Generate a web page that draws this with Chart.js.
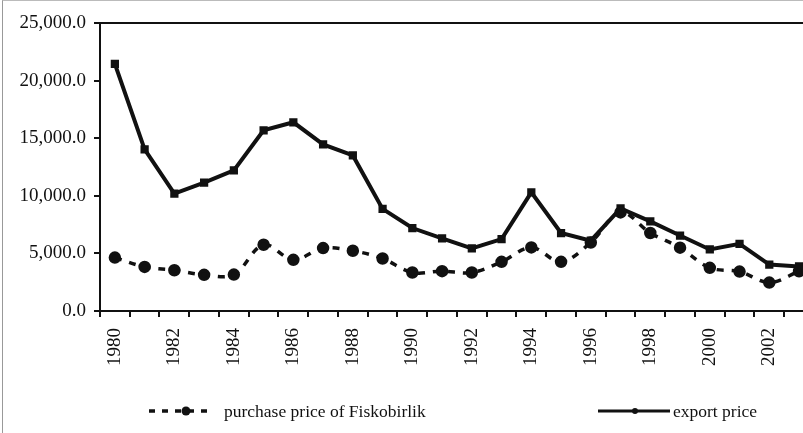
<!DOCTYPE html>
<html lang="en">
<head>
    <meta charset="UTF-8">
    <title>Hazelnut prices</title>
    <script src="https://cdn.jsdelivr.net/npm/chart.js"></script>
    <style>
        body { margin: 0; overflow: hidden; background: #fff; }
        #wrap {
            position: absolute; left: 2px; top: 0;
            width: 830px; height: 432px;
            border-left: 1px solid #999; border-top: 1px solid #bbb;
        }
    </style>
</head>
<body>
    <div id="wrap"><canvas id="price-chart"></canvas></div>

    <script>
        const years = ['1980', '1981', '1982', '1983', '1984', '1985', '1986', '1987', '1988', '1989',
                       '1990', '1991', '1992', '1993', '1994', '1995', '1996', '1997', '1998', '1999',
                       '2000', '2001', '2002', '2003'];
        const purchasePrice = [4640, 3830, 3540, 3140, 3160, 5750, 4440, 5460, 5230, 4560,
                               3340, 3460, 3340, 4270, 5520, 4270, 5950, 8560, 6770, 5500,
                               3750, 3420, 2470, 3450];
        const exportPrice = [21450, 14030, 10190, 11150, 12200, 15680, 16380, 14460, 13500, 8860,
                             7200, 6300, 5430, 6240, 10300, 6770, 6100, 8900, 7780, 6550,
                             5340, 5830, 4030, 3870];
        const yTicks = { min: 0, max: 25000, step: 5000 };

        const ink = '#111';
        const serif = "'Liberation Serif', 'Times New Roman', serif";

        // legend drawn on the canvas: dashed/solid sample with a marker in the middle
        const lineLegend = {
            id: 'lineLegend',
            afterDraw(chart) {
                const ctx = chart.ctx;
                const y = 410;
                const items = [
                    { ds: chart.data.datasets[0], x0: 146, x1: 211, mx: 183, r: 4.5, w: 3.5, dash: [6, 7], tx: 221 },
                    { ds: chart.data.datasets[1], x0: 595, x1: 667, mx: 632, r: 3, w: 3, dash: [], tx: 670 }
                ];
                ctx.save();
                items.forEach(it => {
                    ctx.strokeStyle = it.ds.borderColor;
                    ctx.lineWidth = it.w;
                    ctx.setLineDash(it.dash);
                    ctx.beginPath();
                    ctx.moveTo(it.x0, y);
                    ctx.lineTo(it.x1, y);
                    ctx.stroke();
                    ctx.setLineDash([]);
                    ctx.fillStyle = it.ds.borderColor;
                    ctx.beginPath();
                    ctx.arc(it.mx, y, it.r, 0, Math.PI * 2);
                    ctx.fill();
                    ctx.font = '17.5px ' + serif;
                    ctx.textBaseline = 'middle';
                    ctx.fillText(it.ds.label, it.tx, y + 1);
                });
                ctx.restore();
            }
        };

        const ctx = document.getElementById('price-chart').getContext('2d');
        new Chart(ctx, {
            type: 'line',
            data: {
                labels: years,
                datasets: [
                    {
                        label: 'purchase price of Fiskobirlik',
                        data: purchasePrice,
                        borderColor: ink,
                        backgroundColor: ink,
                        borderWidth: 3.5,
                        borderDash: [7, 8],
                        pointRadius: 4.5,
                        pointStyle: 'circle',
                        tension: 0.35,
                        fill: false
                    },
                    {
                        label: 'export price',
                        data: exportPrice,
                        borderColor: ink,
                        backgroundColor: ink,
                        borderWidth: 4,
                        pointRadius: 3,
                        pointStyle: 'rect',
                        tension: 0,
                        fill: false
                    }
                ]
            },
            options: {
                responsive: true,
                maintainAspectRatio: false,
                animation: false,
                layout: { padding: { top: 22, right: 6, bottom: 60, left: 0 } },
                plugins: {
                    legend: { display: false },
                    tooltip: { enabled: false }
                },
                scales: {
                    x: {
                        offset: true,
                        afterFit(scale) { scale.height = 62; },
                        grid: { offset: true, color: 'transparent', tickColor: ink, tickLength: 6, lineWidth: 2 },
                        border: { display: true, color: ink, width: 2 },
                        ticks: {
                            autoSkip: false,
                            minRotation: 90,
                            maxRotation: 90,
                            padding: 11,
                            color: ink,
                            font: { family: serif, size: 19 },
                            callback(value, index) {
                                return index % 2 === 0 ? this.getLabelForValue(value) : '';
                            }
                        }
                    },
                    y: {
                        min: yTicks.min,
                        max: yTicks.max,
                        afterFit(scale) { scale.width = 97; },
                        grid: {
                            color: c => c.tick && c.tick.value === yTicks.max ? ink : 'transparent',
                            tickColor: ink,
                            tickLength: 6,
                            lineWidth: 2
                        },
                        border: { display: true, color: ink, width: 2 },
                        ticks: {
                            stepSize: yTicks.step,
                            padding: 8,
                            color: ink,
                            font: { family: serif, size: 19 },
                            callback: v => v.toLocaleString('en-US', { minimumFractionDigits: 1, maximumFractionDigits: 1 })
                        }
                    }
                }
            },
            plugins: [lineLegend]
        });
    </script>
</body>
</html>
